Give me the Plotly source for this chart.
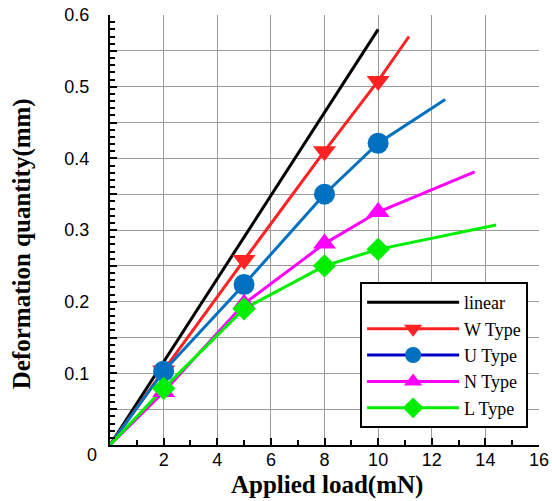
import plotly.graph_objects as go

# ---- data ----
linear_x = [0, 10]
linear_y = [0, 0.58]

load_pts = [2, 5, 8, 10]

w_line_x = [0, 2, 5, 8, 10, 11.15]
w_line_y = [0, 0.104, 0.258, 0.41, 0.508, 0.57]
w_pts = [0.104, 0.258, 0.41, 0.508]

u_line_x = [0, 2, 5, 8, 10, 12.5]
u_line_y = [0, 0.103, 0.224, 0.35, 0.421, 0.482]
u_pts = [0.103, 0.224, 0.35, 0.421]

n_line_x = [0, 2, 5, 8, 10, 13.6]
n_line_y = [0, 0.074, 0.197, 0.281, 0.325, 0.381]
n_pts = [0.074, 0.197, 0.281, 0.325]

l_line_x = [0, 2, 5, 8, 10, 14.4]
l_line_y = [0, 0.079, 0.19, 0.25, 0.273, 0.307]
l_pts = [0.079, 0.19, 0.25, 0.273]

series = [
    # name, line x, line y, marker y, line colour, legend line colour, symbol, size
    ("W Type", w_line_x, w_line_y, w_pts, "#FF2222", "#FF2222", "triangle-down", 20),
    ("U Type", u_line_x, u_line_y, u_pts, "#0070C0", "#0000CC", "circle", 21),
    ("N Type", n_line_x, n_line_y, n_pts, "#FF00FF", "#FF00FF", "triangle-up", 20),
    ("L Type", l_line_x, l_line_y, l_pts, "#00EE00", "#00EE00", "diamond", 18),
]

x_tick_vals = [0, 2, 4, 6, 8, 10, 12, 14, 16]

fig = go.Figure()

fig.add_trace(go.Scatter(x=linear_x, y=linear_y, mode="lines", name="linear",
                         line=dict(color="black", width=3)))

for name, lx, ly, py, col, lcol, sym, sz in series:
    fig.add_trace(go.Scatter(x=lx, y=ly, mode="lines", showlegend=False,
                             line=dict(color=col, width=3), hoverinfo="skip"))
for name, lx, ly, py, col, lcol, sym, sz in series:
    fig.add_trace(go.Scatter(x=load_pts, y=py, mode="markers", showlegend=False,
                             marker=dict(symbol=sym, size=sz, color=col)))
for name, lx, ly, py, col, lcol, sym, sz in series:
    fig.add_trace(go.Scatter(x=[None], y=[None], mode="lines+markers", name=name,
                             line=dict(color=lcol, width=3),
                             marker=dict(symbol=sym, size=16, color=col)))

y_alias = {"0": "", "0.05": "", "0.15": "", "0.25": "", "0.35": "", "0.45": "", "0.55": ""}

serif = "Liberation Serif, Times New Roman, serif"
sans = "Liberation Sans, Arial, sans-serif"

fig.update_layout(
    width=552, height=501,
    margin=dict(l=110, r=13, t=15, b=56),
    paper_bgcolor="white", plot_bgcolor="white",
    font=dict(family=sans, size=18, color="black"),
    showlegend=True,
    legend=dict(
        x=0.583, y=0.379, xanchor="left", yanchor="top",
        bgcolor="white", bordercolor="black", borderwidth=2,
        font=dict(family=serif, size=18, color="black"),
        itemwidth=92, tracegroupgap=0,
    ),
    xaxis=dict(
        automargin=False,
        range=[0, 16], tickmode="array", tickvals=x_tick_vals,
        ticktext=[""] + [str(v) for v in x_tick_vals[1:]],
        showgrid=True, gridcolor="#9A9A9A", gridwidth=1,
        showline=True, linecolor="black", linewidth=2,
        ticks="inside", ticklen=7, tickwidth=2, tickcolor="black",
        minor=dict(dtick=1, ticks="inside", ticklen=5, tickwidth=2, tickcolor="black", showgrid=False),
        zeroline=False,
        ticklabelstandoff=-3,
        tickfont=dict(family=sans, size=18),
    ),
    yaxis=dict(
        automargin=False,
        range=[0, 0.6], dtick=0.05, tick0=0,
        labelalias=y_alias,
        showgrid=True, gridcolor="#9A9A9A", gridwidth=1,
        showline=True, linecolor="black", linewidth=2,
        ticks="inside", ticklen=7, tickwidth=2, tickcolor="black",
        minor=dict(dtick=0.01, ticks="inside", ticklen=5, tickwidth=2, tickcolor="black", showgrid=False),
        zeroline=False,
        ticklabelstandoff=15,
        tickfont=dict(family=sans, size=18),
    ),
    annotations=[
        dict(text="0", xref="paper", yref="paper", x=-0.042, y=-0.023,
             xanchor="center", yanchor="middle", showarrow=False,
             font=dict(family=sans, size=18)),
        dict(text="<b>Applied load(mN)</b>", xref="paper", yref="paper", x=0.506, y=-0.094,
             xanchor="center", yanchor="middle", showarrow=False,
             font=dict(family=serif, size=25)),
        dict(text="<b>Deformation quantity(mm)</b>", xref="paper", yref="paper", x=-0.205, y=0.467,
             xanchor="center", yanchor="middle", showarrow=False, textangle=-90,
             font=dict(family=serif, size=25)),
    ],
)

fig.write_html("out.html",
               config={"displayModeBar": False},
               post_script="document.body.style.margin='0px';document.body.style.overflow='hidden';")
